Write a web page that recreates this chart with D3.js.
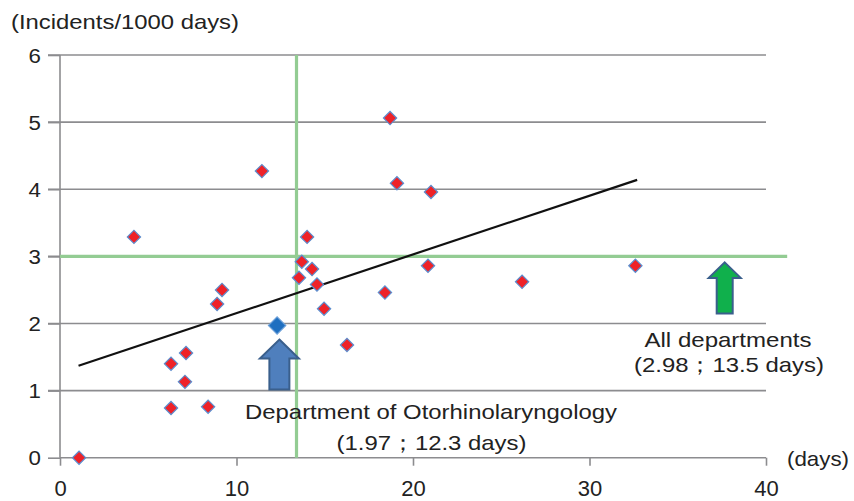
<!DOCTYPE html>
<html><head><meta charset="utf-8">
<script src="https://cdn.jsdelivr.net/npm/d3@7"></script>
<style>body{margin:0;background:#fff}svg{display:block;font-family:"Liberation Sans",Arial,sans-serif}</style>
</head><body><svg id="c" width="854" height="501"></svg>
<script>
// Data
const deptDays = [1.08, 4.19, 6.29, 6.29, 7.14, 7.08, 8.39, 8.9, 9.18, 11.44, 13.54, 13.7, 14.0, 14.28, 14.56, 14.96, 16.26, 18.41, 18.7, 19.09, 21.02, 20.85, 26.18, 32.6];
const deptRate = [0.0, 3.29, 1.40, 0.74, 1.56, 1.13, 0.76, 2.29, 2.50, 4.27, 2.68, 2.92, 3.29, 2.81, 2.58, 2.22, 1.68, 2.46, 5.06, 4.09, 3.96, 2.86, 2.62, 2.86];
const entDays = [12.3];
const entRate = [1.97];
const trendX = [1.05, 32.7];
const trendY = [1.37, 4.14];
const refDays = 13.4;   // all-departments mean length of stay (vertical line)
const refRate = 3.0;    // all-departments incident rate (horizontal line)
const xTicks = [0, 10, 20, 30, 40];
const yTicks = [0, 1, 2, 3, 4, 5, 6];
const yTitle = "(Incidents/1000 days)";
const xTitle = "(days)";
const entLabel = ["Department of Otorhinolaryngology", "(1.97\uFF1B12.3 days)"];
const allLabel = ["All departments", "(2.98\uFF1B13.5 days)"];

const svg = d3.select("#c");
const x = d3.scaleLinear().domain([0, 40]).range([60, 766]);
const y = d3.scaleLinear().domain([0, 6]).range([457.7, 55]);
const grey = "#8c8c8f";

// gridlines
svg.append("g").selectAll("line").data(yTicks.filter(d => d > 0)).join("line")
  .attr("x1", x(0) - 12).attr("x2", x(40)).attr("y1", d => y(d)).attr("y2", d => y(d))
  .attr("stroke", grey).attr("stroke-width", 1.6);

// y axis
const ya = svg.append("g").attr("transform", `translate(${x(0)},0)`)
  .call(d3.axisLeft(y).tickValues(yTicks).tickSize(12).tickPadding(7).tickFormat(d3.format("d")));
ya.attr("font-size", null).attr("font-family", null);
ya.select(".domain").attr("stroke", grey).attr("stroke-width", 1.6).attr("d", `M0,${y(0)}V${y(6)}`);
ya.selectAll(".tick line").attr("stroke", grey).attr("stroke-width", 1.6);
ya.selectAll(".tick text").style("font-size", "20px").attr("fill", "#222").attr("dy", "0.36em")
  .attr("textLength", 12.4).attr("lengthAdjust", "spacingAndGlyphs");

// x axis
const xa = svg.append("g").attr("transform", `translate(0,${y(0)})`)
  .call(d3.axisBottom(x).tickValues(xTicks).tickSize(8).tickPadding(15).tickFormat(d3.format("d")));
xa.attr("font-size", null).attr("font-family", null);
xa.select(".domain").attr("stroke", grey).attr("stroke-width", 1.6).attr("d", `M${x(0)},0H${x(40)}`);
xa.selectAll(".tick line").attr("stroke", grey).attr("stroke-width", 1.6);
xa.selectAll(".tick text").style("font-size", "22px").attr("fill", "#222");

// reference lines (green)
const green = "#93cc93";
svg.append("line").attr("x1", x(refDays)).attr("x2", x(refDays)).attr("y1", y(6)).attr("y2", y(0))
  .attr("stroke", green).attr("stroke-width", 3.2);
svg.append("line").attr("x1", x(0)).attr("x2", x(41.2)).attr("y1", y(refRate)).attr("y2", y(refRate))
  .attr("stroke", green).attr("stroke-width", 3.2);

// trendline
svg.append("line").attr("x1", x(trendX[0])).attr("y1", y(trendY[0])).attr("x2", x(trendX[1])).attr("y2", y(trendY[1]))
  .attr("stroke", "#111").attr("stroke-width", 2.2);

// points
svg.append("g").selectAll("path").data(deptDays.map((d, i) => [d, deptRate[i]])).join("path")
  .attr("d", d3.symbol().type(d3.symbolSquare).size(88)())
  .attr("transform", d => `translate(${x(d[0])},${y(d[1])}) rotate(45)`)
  .attr("fill", "#ee2228").attr("stroke", "#5b8fd0").attr("stroke-width", 1.2);
svg.append("g").selectAll("path").data(entDays.map((d, i) => [d, entRate[i]])).join("path")
  .attr("d", d3.symbol().type(d3.symbolSquare).size(150)())
  .attr("transform", d => `translate(${x(d[0])},${y(d[1])}) rotate(45)`)
  .attr("fill", "#1f6fc0").attr("stroke", "#6a9fd8").attr("stroke-width", 1.2);

// arrows
function arrow(tx, ty, headH, headW, shaftW, total) {
  return `M${tx},${ty} L${tx + headW},${ty + headH} L${tx + shaftW},${ty + headH} L${tx + shaftW},${ty + total}
          L${tx - shaftW},${ty + total} L${tx - shaftW},${ty + headH} L${tx - headW},${ty + headH} Z`;
}
svg.append("path").attr("d", arrow(x(12.43), y(1.76), 19, 19.5, 10, 50))
  .attr("fill", "#4f7fbd").attr("stroke", "#3a5f8c").attr("stroke-width", 2);
svg.append("path").attr("d", arrow(x(37.66), y(2.91), 15.5, 16, 8, 51))
  .attr("fill", "#10b04c").attr("stroke", "#3a5f8c").attr("stroke-width", 2);

// texts
const txt = (s, px, py, size, anchor, len) => {
  const t = svg.append("text").attr("x", px).attr("y", py).style("font-size", size + "px")
    .attr("fill", "#222").attr("text-anchor", anchor).text(s);
  if (len) t.attr("textLength", len).attr("lengthAdjust", "spacingAndGlyphs");
  return t;
};
txt(yTitle, 11, 29, 21, "start", 228);
txt(xTitle, 787, 466, 21, "start", 62);
txt(entLabel[0], 431, 419, 21, "middle", 372);
txt(entLabel[1], 431.5, 450, 21, "middle", 190);
txt(allLabel[0], 728, 347, 21, "middle", 167);
txt(allLabel[1], 729, 372, 21, "middle", 190);
</script></body></html>
